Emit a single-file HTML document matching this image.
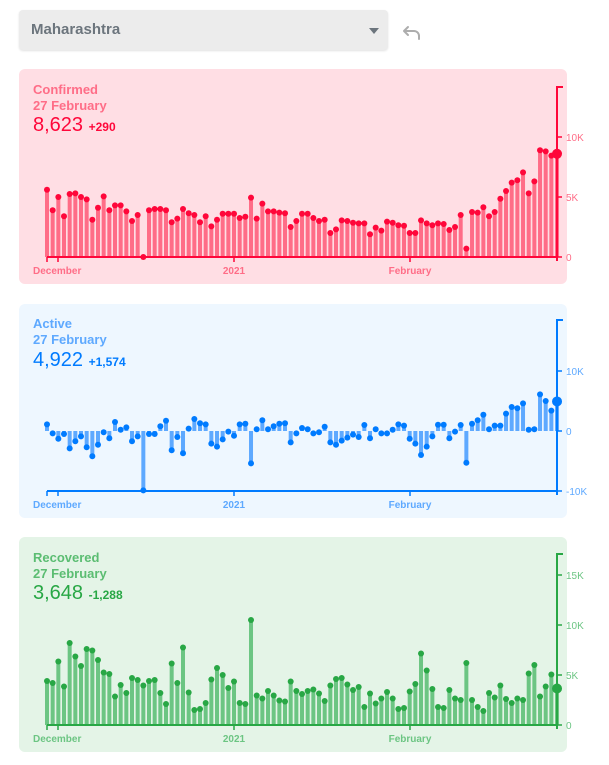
<!DOCTYPE html>
<html><head><meta charset="utf-8"><style>
html,body{margin:0;padding:0;background:#fff;width:609px;height:765px;overflow:hidden;font-family:"Liberation Sans",sans-serif}
.dd{position:absolute;left:19px;top:10px;width:369px;height:40px;background:#ececec;border-radius:4px;box-shadow:0 1px 2px rgba(0,0,0,.12)}
.dd span{position:absolute;left:12px;top:11px;font-size:15px;font-weight:bold;color:#6c757d}
.dd i{position:absolute;left:350px;top:18px;width:0;height:0;border-left:5px solid transparent;border-right:5px solid transparent;border-top:6px solid #6c757d}
.panel{position:absolute;left:19px;width:548px;border-radius:6px}
.t{position:absolute;left:14px;font-weight:bold;font-size:13px;line-height:16px}
.n{position:absolute;left:14px;font-size:20px;line-height:22px}
.n small{font-size:12px;font-weight:bold}
svg{position:absolute;left:0;top:0}
</style></head><body>
<div class="dd"><span>Maharashtra</span><i></i></div>
<svg width="30" height="30" style="left:398px;top:18px" viewBox="0 0 30 30"><path d="M10 9 L6 13 L10 17 M6 13 H16 a5 5 0 0 1 5 5 V21" fill="none" stroke="#adadad" stroke-width="2" stroke-linecap="round" stroke-linejoin="round"/></svg>

<div class="panel" style="top:69px;height:215px;background:#ffdee4">
<div class="t" style="top:13px;color:#ff6d87">Confirmed<br>27 February</div>
<div class="n" style="top:45px;color:#ff073a">8,623 <small>+290</small></div></div>
<div class="panel" style="top:304px;height:214px;background:#eef7ff">
<div class="t" style="top:12px;color:#5ea9ff">Active<br>27 February</div>
<div class="n" style="top:45px;color:#007bff">4,922 <small>+1,574</small></div></div>
<div class="panel" style="top:537px;height:215px;background:#e4f4e7">
<div class="t" style="top:13px;color:#5bbd72">Recovered<br>27 February</div>
<div class="n" style="top:45px;color:#28a745">3,648 <small>-1,288</small></div></div>
<svg id="s" width="609" height="765"></svg>
<script>
var C=[5.6,3.9,5.0,3.4,5.25,5.3,5.0,4.8,3.1,4.1,5.05,3.9,4.3,4.3,3.8,3.0,3.5,0,3.9,4.0,4.0,3.9,2.9,3.2,4.0,3.65,3.5,2.9,3.4,2.55,3.1,3.6,3.6,3.6,3.25,3.35,4.95,3.2,4.45,3.8,3.8,3.7,3.65,2.5,3.0,3.6,3.6,3.25,3.0,3.1,2.0,2.3,3.05,3.0,2.85,2.8,2.8,1.9,2.45,2.2,2.95,2.85,2.65,2.6,2.0,2.0,3.05,2.8,2.65,2.8,2.75,2.25,2.5,3.5,0.7,3.75,3.7,4.15,3.4,3.75,4.85,5.5,6.2,6.4,7.05,5.3,6.3,8.9,8.8,8.45,8.6];
var A=[1.1,-0.4,-1.3,-0.5,-2.9,-1.7,-0.9,-2.7,-4.2,-2.3,-0.2,-1.2,1.5,0.2,0.6,-1.7,-0.9,-9.9,-0.5,-0.5,0.8,1.7,-3.2,-1.0,-3.7,0.4,2.0,1.3,1.1,-2.1,-2.6,-1.4,-0.1,-0.8,1.1,1.2,-5.4,0.3,1.8,0.3,0.8,1.2,1.3,-1.9,-0.4,0.5,0.3,-0.4,-0.2,0.7,-1.9,-2.3,-1.6,-1.1,-0.6,-1.0,1.0,-1.2,0.3,-0.4,-0.4,0.2,1.1,0.9,-1.3,-2.1,-4.0,-2.6,-0.9,1.05,1.05,-1.2,-0.1,1.0,-5.3,1.2,1.8,2.7,0.3,0.9,0.9,2.9,4.0,3.8,4.6,0.2,0.3,6.1,5.0,3.4,4.922];
var R=[4.4,4.2,6.35,3.85,8.2,6.85,5.9,7.6,7.45,6.5,5.25,5.1,2.85,4.0,3.2,4.7,4.5,3.95,4.4,4.5,3.2,2.1,6.15,4.2,7.75,3.25,1.5,1.6,2.2,4.55,5.7,5.0,3.7,4.35,2.2,2.1,10.5,2.95,2.65,3.4,2.95,2.45,2.35,4.35,3.4,3.1,3.4,3.55,3.15,2.4,3.95,4.6,4.7,4.05,3.5,3.8,1.8,3.15,2.15,2.65,3.3,2.65,1.6,1.7,3.35,4.1,7.15,5.45,3.6,1.8,1.7,3.5,2.65,2.5,6.2,2.5,1.8,1.4,3.2,2.75,3.95,2.6,2.2,2.65,2.5,5.15,6.0,2.85,3.85,5.05,3.648];
var h='';
function chart(d,col,bar,base,ppk,top,bottom,ticks,ly){
 var tk=ticks;
 for(var i=0;i<d.length;i++){var x=47+i*5.667,y=base-d[i]*ppk;
  h+='<rect x="'+(x-2)+'" y="'+Math.min(y,base)+'" width="4" height="'+Math.abs(base-y)+'" fill="'+bar+'"/>';
  h+='<circle cx="'+x+'" cy="'+y+'" r="'+(i==d.length-1?5:3)+'" fill="'+col+'"/>';}
 h+='<line x1="557" y1="'+top+'" x2="557" y2="'+(bottom+4)+'" stroke="'+col+'" stroke-width="2"/>';
 h+='<line x1="556" y1="'+top+'" x2="563" y2="'+top+'" stroke="'+col+'" stroke-width="2"/>';
 h+='<line x1="47" y1="'+bottom+'" x2="558" y2="'+bottom+'" stroke="'+col+'" stroke-width="2"/>';
 [47,58,234,410].forEach(function(x){h+='<line x1="'+x+'" y1="'+bottom+'" x2="'+x+'" y2="'+(bottom+5)+'" stroke="'+col+'" stroke-width="1.5"/>';});
 tk.forEach(function(t){var y=base-t[0]*ppk;h+='<line x1="557" y1="'+y+'" x2="562" y2="'+y+'" stroke="'+col+'" stroke-width="1.5"/><text x="566" y="'+(y+4)+'" font-size="10" fill="'+bar+'">'+t[1]+'</text>';});
 h+='<text x="33" y="'+ly+'" font-size="10" font-weight="bold" fill="'+bar+'">December</text><text x="234" y="'+ly+'" font-size="10" font-weight="bold" fill="'+bar+'" text-anchor="middle">2021</text><text x="410" y="'+ly+'" font-size="10" font-weight="bold" fill="'+bar+'" text-anchor="middle">February</text>';
}
chart(C,'#ff073a','#ff6d87',257,12,87,257,[[0,'0'],[5,'5K'],[10,'10K']],274);
chart(A,'#007bff','#5ea9ff',431,6,320,491,[[10,'10K'],[0,'0'],[-10,'-10K']],508);
chart(R,'#28a745','#6cc583',725,10,554,725,[[0,'0'],[5,'5K'],[10,'10K'],[15,'15K']],742);
document.getElementById('s').innerHTML=h;
</script>
</body></html>
